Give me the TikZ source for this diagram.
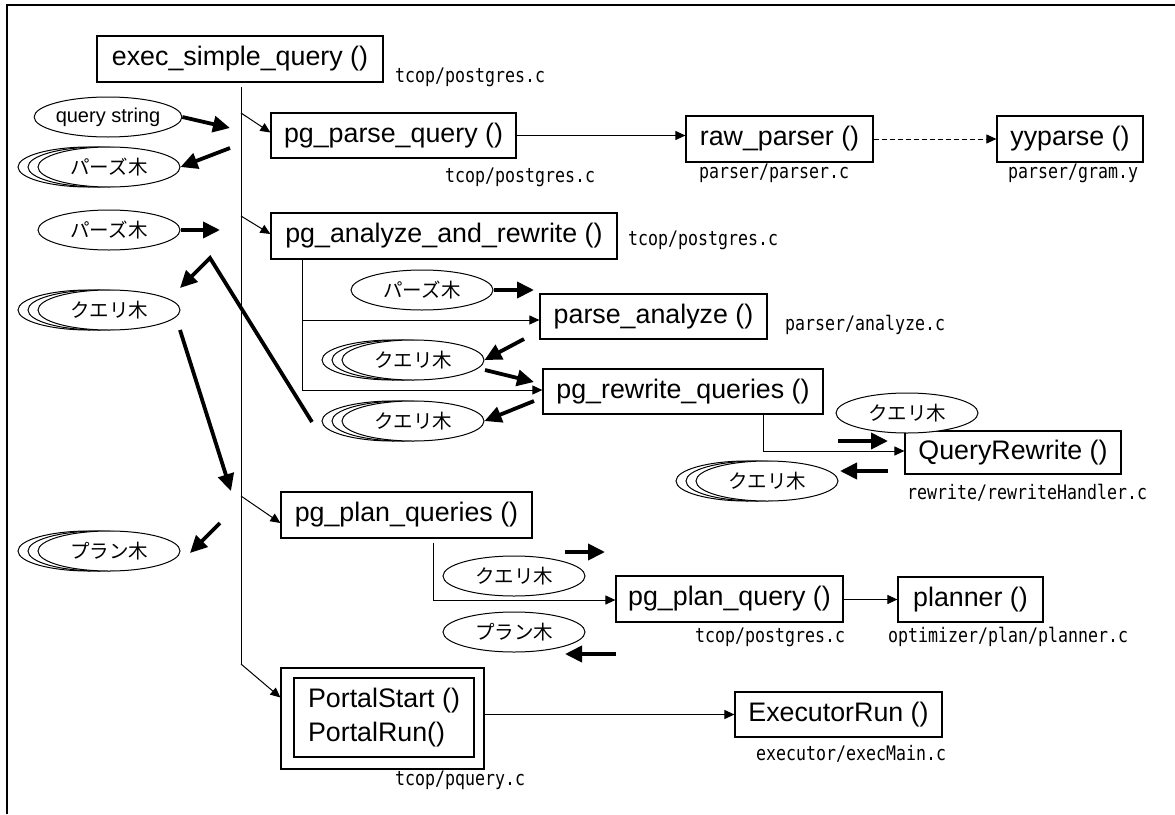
\documentclass[tikz,border=0pt]{standalone}
\usepackage{fontspec}
\setmainfont{Liberation Sans}
\newfontfamily\jafont{Noto Sans CJK JP}
\newfontfamily\pathfont[FakeStretch=0.83]{DejaVu Sans Mono}
\usetikzlibrary{shapes.geometric,arrows.meta}

% stacked data ellipses: name, centre, text
\newcommand\stackdata[3]{%
  \node[data,xshift=-20pt] at (#2) {};
  \node[data,xshift=-10pt] at (#2) {};
  \node[data] (#1) at (#2) {#3};
}

\begin{document}
\begin{tikzpicture}[x=1pt,y=-1pt,
  func/.style={draw, line width=1.2pt, inner sep=0pt,
    font=\fontsize{26.8}{30}\selectfont},
  data/.style={draw, ellipse, fill=white, line width=1pt,
    minimum width=142pt, minimum height=40pt, inner sep=0pt,
    font=\jafont\fontsize{19.5}{22}\selectfont},
  src/.style={anchor=west, inner sep=0pt,
    font=\pathfont\fontsize{20}{22}\selectfont},
  link/.style={line width=1pt},
  call/.style={line width=1pt, -{Triangle[length=10pt,width=9pt]}},
  flow/.style={line width=3.8pt, -{Triangle[length=17pt,width=16pt]}}
]
\useasboundingbox (0,0) rectangle (1175,814);
\draw[line width=1.5pt] (1175,5) -- (7,5) -- (7,814);

% ---- functions ----
\node[func, minimum width=286pt, minimum height=46pt] (exec) at (240,59) {exec\_simple\_query ()};
\node[func, minimum width=245pt, minimum height=45pt] (pgparse) at (393.5,135.5) {pg\_parse\_query ()};
\node[func, minimum width=187pt, minimum height=46pt] (raw) at (779.5,139) {raw\_parser ()};
\node[func, minimum width=146pt, minimum height=46pt] (yy) at (1070,139) {yyparse ()};
\node[func, minimum width=346pt, minimum height=46pt] (pganalyze) at (444,236) {pg\_analyze\_and\_rewrite ()};
\node[func, minimum width=227pt, minimum height=45pt] (parseanalyze) at (653.5,316.5) {parse\_analyze ()};
\node[func, minimum width=280pt, minimum height=45pt] (pgrewrite) at (683,391.5) {pg\_rewrite\_queries ()};
\node[func, minimum width=216pt, minimum height=43pt] (queryrewrite) at (1013,452.5) {QueryRewrite ()};
\node[func, minimum width=251pt, minimum height=46pt] (pgplanqueries) at (406.5,515) {pg\_plan\_queries ()};
\node[func, minimum width=227pt, minimum height=46pt] (pgplanquery) at (729.5,599) {pg\_plan\_query ()};
\node[func, minimum width=145pt, minimum height=45pt] (planner) at (970.5,599.5) {planner ()};
\node[func, minimum width=203pt, minimum height=101pt] (portal) at (382.5,718.5) {};
\node[func, minimum width=180pt, minimum height=79pt, align=left,
  font=\fontsize{26.8}{34}\selectfont] (portalin) at (384,717.5) {PortalStart ()\\PortalRun()};
\node[func, minimum width=207pt, minimum height=45pt] (executorrun) at (838.5,714.5) {ExecutorRun ()};

% ---- source files ----
\node[src] (f1) at (395,77) {tcop/postgres.c};
\node[src] (f2) at (445,177) {tcop/postgres.c};
\node[src] (f3) at (699,173) {parser/parser.c};
\node[src] (f4) at (1008,173) {parser/gram.y};
\node[src] (f5) at (628,240) {tcop/postgres.c};
\node[src] (f6) at (785,325) {parser/analyze.c};
\node[src] (f7) at (907,493) {rewrite/rewriteHandler.c};
\node[src] (f8) at (695,637) {tcop/postgres.c};
\node[src] (f9) at (888,637) {optimizer/plan/planner.c};
\node[src] (f10) at (395,780) {tcop/pquery.c};
\node[src] (f11) at (756,754) {executor/execMain.c};

% ---- data ----
\node[data, font=\fontsize{20}{22}\selectfont] (qs) at (108,117) {query string};
\stackdata{pt1}{109,167}{パーズ木}
\node[data] (pt2) at (109,230) {パーズ木};
\stackdata{qt1}{109,310}{クエリ木}
\stackdata{pl1}{109,551}{プラン木}
\node[data] (pt3) at (422,290) {パーズ木};
\stackdata{qt2}{413,360}{クエリ木}
\stackdata{qt3}{413,421}{クエリ木}
\node[data] (qt4) at (907,413) {クエリ木};
\stackdata{qt5}{767,481}{クエリ木}
\node[data] (qt6) at (514,576) {クエリ木};
\node[data] (pl2) at (514,632) {プラン木};

% ---- call tree from exec_simple_query ----
\coordinate (t0) at (241,87);
\coordinate (t1) at (241,113);
\coordinate (t2) at (241,216);
\coordinate (t3) at (241,496);
\coordinate (t4) at (241,664);
\draw[link] (t0) -- (t4);
\draw[call] (t1) -- ([yshift=3pt]pgparse.west);
\draw[call] (t2) -- ([yshift=2pt]pganalyze.west);
\draw[call] (t3) -- ([yshift=-8pt]pgplanqueries.west);
\draw[call] (t4) -- ([yshift=21pt]portal.west);

\draw[call] (pgparse.east) -- (pgparse.east -| raw.west);
\draw[call, dash pattern=on 5pt off 3pt] (raw.east) -- (yy.west);

\coordinate (b0) at (302,259);
\coordinate (b1) at (302,320);
\coordinate (b2) at (302,390);
\draw[link] (b0) -- (b2);
\draw[call] (b1) -- (b1 -| parseanalyze.west);
\draw[call] (b2) -- (b2 -| pgrewrite.west);

\coordinate (r1) at (763,451);
\draw[call] (pgrewrite.south -| r1) -- (r1) -- (r1 -| queryrewrite.west);

\coordinate (p1) at (433,600);
\draw[call] ([yshift=-4pt]pgplanqueries.south -| p1) -- (p1) -- (p1 -| pgplanquery.west);
\draw[call] (pgplanquery.east |- planner.west) -- (planner.west);
\draw[call] (portal.east |- executorrun.west) -- (executorrun.west);

% ---- data flow ----
\coordinate (d1) at (230,128);
\coordinate (d2) at (230,148);
\coordinate (d3) at (220,230);
\coordinate (d4a) at (312,422);
\coordinate (d4b) at (210,258);
\coordinate (d4c) at (180,288);
\coordinate (d5a) at (180,330);
\coordinate (d5b) at (231,491);
\coordinate (d6a) at (220,523);
\coordinate (d6b) at (190,553);
\coordinate (d7) at (534,290);
\coordinate (d8) at (524,339);
\coordinate (d9a) at (485,370);
\coordinate (d9b) at (534,382);
\coordinate (d10) at (534,401);
\coordinate (d11a) at (838,441);
\coordinate (d11b) at (888,441);
\coordinate (d12a) at (888,471);
\coordinate (d12b) at (840,471);
\coordinate (d13a) at (565,552);
\coordinate (d13b) at (605,552);
\coordinate (d14a) at (616,654);
\coordinate (d14b) at (565,654);

\draw[flow] (qs.east) -- (d1);
\draw[flow] (d2) -- (pt1.east);
\draw[flow] (pt2.east) -- (d3);
\draw[flow] (d4a) -- (d4b) -- (d4c);
\draw[flow] (d5a) -- (d5b);
\draw[flow] (d6a) -- (d6b);
\draw[flow] (pt3.east) -- (d7);
\draw[flow] (d8) -- (qt2.east);
\draw[flow] (d9a) -- (d9b);
\draw[flow] (d10) -- (qt3.east);
\draw[flow] (d11a) -- (d11b);
\draw[flow] (d12a) -- (d12b);
\draw[flow] (d13a) -- (d13b);
\draw[flow] (d14a) -- (d14b);
\end{tikzpicture}
\end{document}
